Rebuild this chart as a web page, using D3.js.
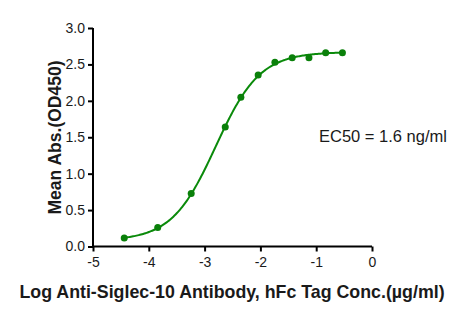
<!DOCTYPE html>
<html>
<head>
<meta charset="utf-8">
<script src="https://cdn.jsdelivr.net/npm/d3@7"></script>
<style>
  body { margin: 0; background: #fff; }
  text { font-family: "Liberation Sans", Arial, sans-serif; fill: #1a1a1a; }
</style>
</head>
<body>
<div id="drawing"></div>
<script>
const width = 466;
const height = 316;

// measured points (log conc, OD450)
const logConc = [-4.44, -3.84, -3.24, -2.63, -2.35, -2.04, -1.74, -1.43, -1.13, -0.83, -0.53];
const od450 = [0.115, 0.26, 0.727, 1.64, 2.05, 2.355, 2.53, 2.59, 2.59, 2.66, 2.66];

// 4PL fit shown on the chart
const fitBottom = 0.08;
const fitTop = 2.67;
const fitLogEC50 = -2.8;
const fitHill = 1.1;

const xTicks = [-5, -4, -3, -2, -1, 0];
const yTicks = [0, 0.5, 1.0, 1.5, 2.0, 2.5, 3.0];
const ec50Label = "EC50 = 1.6 ng/ml";

const svg = d3.select("#drawing").append("svg")
  .attr("width", width)
  .attr("height", height);

const xScale = d3.scaleLinear().domain([-5, 0]).range([93, 372]);
const yScale = d3.scaleLinear().domain([0, 3]).range([246.5, 28]);

// axes (plain hyphen for negatives, like the original)
const xAxis = svg.append("g")
  .attr("transform", `translate(0,${yScale(0)})`)
  .call(d3.axisBottom(xScale).tickValues(xTicks).tickFormat(d => String(d)).tickSizeOuter(0).tickSize(5).tickPadding(6));
const yAxis = svg.append("g")
  .attr("transform", `translate(${xScale(-5)},0)`)
  .call(d3.axisLeft(yScale).tickValues(yTicks).tickFormat(d => d.toFixed(1)).tickSizeOuter(0).tickSize(5).tickPadding(3));

[xAxis, yAxis].forEach(a => {
  a.select(".domain").attr("stroke", "#000").attr("stroke-width", 2);
  a.selectAll(".tick line").attr("stroke", "#000").attr("stroke-width", 2);
  a.selectAll(".tick text").style("font-size", "14px").attr("fill", "#1a1a1a");
});
// make the axes meet in the corner
xAxis.select(".domain").attr("d", `M${xScale(-5) - 1},0H${xScale(0)}`);
yAxis.select(".domain").attr("d", `M0,${yScale(0) + 1}V${yScale(3)}`);

// fitted curve
const fit = x => fitBottom + (fitTop - fitBottom) / (1 + Math.pow(10, (fitLogEC50 - x) * fitHill));
const curveX = d3.range(logConc[0], logConc[logConc.length - 1] + 0.001, 0.02);
svg.append("path")
  .datum(curveX)
  .attr("fill", "none")
  .attr("stroke", "#0a8a0a")
  .attr("stroke-width", 2)
  .attr("d", d3.line().x(d => xScale(d)).y(d => yScale(fit(d))));

// points
svg.selectAll(".pt")
  .data(logConc.map((x, i) => ({x: x, y: od450[i]})))
  .enter()
  .append("circle")
    .attr("class", "pt")
    .attr("cx", d => xScale(d.x))
    .attr("cy", d => yScale(d.y))
    .attr("r", 3.5)
    .attr("fill", "#0a800a");

// labels
svg.append("text")
  .attr("x", 383).attr("y", 142)
  .attr("text-anchor", "middle")
  .style("font-size", "16.5px")
  .text(ec50Label);

svg.append("text")
  .attr("x", 232).attr("y", 298)
  .attr("text-anchor", "middle")
  .style("font-size", "17.8px")
  .style("font-weight", "bold")
  .text("Log Anti-Siglec-10 Antibody, hFc Tag Conc.(\u00b5g/ml)");

svg.append("text")
  .attr("transform", `translate(61,137.5) rotate(-90)`)
  .attr("text-anchor", "middle")
  .style("font-size", "17.5px")
  .style("font-weight", "bold")
  .text("Mean Abs.(OD450)");
</script>
</body>
</html>
